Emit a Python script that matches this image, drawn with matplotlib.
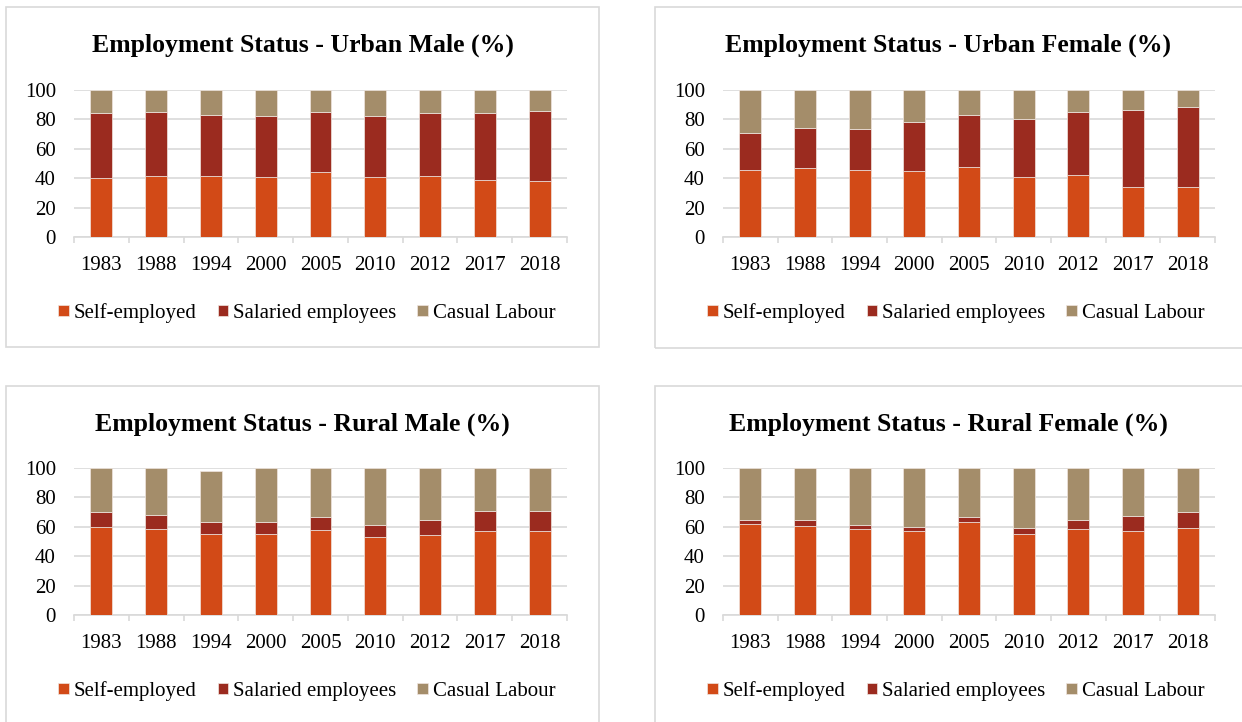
import matplotlib.pyplot as plt
import numpy as np
from matplotlib.patches import Rectangle

years = ["1983", "1988", "1994", "2000", "2005", "2010", "2012", "2017", "2018"]
series_names = ["Self-employed", "Salaried employees", "Casual Labour"]

urban_male_self = [40.1, 41.3, 41.3, 40.8, 44.2, 40.8, 41.3, 38.8, 38.1]
urban_male_salaried = [44.0, 44.0, 41.9, 41.7, 41.1, 41.7, 43.3, 45.8, 47.4]
urban_male_casual = [15.9, 14.7, 16.8, 17.5, 14.7, 17.5, 15.4, 15.4, 14.5]

urban_female_self = [45.6, 46.9, 45.6, 44.9, 47.4, 40.8, 42.0, 34.0, 34.0]
urban_female_salaried = [25.4, 27.5, 28.1, 33.3, 35.8, 39.2, 43.3, 52.6, 54.7]
urban_female_casual = [29.0, 25.6, 26.3, 21.8, 16.8, 20.0, 14.7, 13.4, 11.3]

rural_male_self = [60.0, 58.6, 55.4, 54.8, 57.7, 52.9, 54.1, 57.2, 57.2]
rural_male_salaried = [10.4, 9.7, 8.2, 8.3, 9.0, 8.6, 10.2, 13.8, 13.8]
rural_male_casual = [29.6, 31.7, 34.4, 36.9, 33.3, 38.5, 35.7, 29.0, 29.0]

rural_female_self = [62.0, 60.4, 58.6, 57.2, 63.3, 55.4, 58.8, 57.2, 59.3]
rural_female_salaried = [2.3, 3.9, 2.3, 2.8, 3.7, 4.1, 5.5, 10.4, 11.1]
rural_female_casual = [35.7, 35.7, 39.1, 40.0, 33.0, 40.5, 35.7, 32.4, 29.6]

titles = [
    "Employment Status - Urban Male (%)",
    "Employment Status - Urban Female (%)",
    "Employment Status - Rural Male (%)",
    "Employment Status - Rural Female (%)",
]
panels = [
    (urban_male_self, urban_male_salaried, urban_male_casual),
    (urban_female_self, urban_female_salaried, urban_female_casual),
    (rural_male_self, rural_male_salaried, rural_male_casual),
    (rural_female_self, rural_female_salaried, rural_female_casual),
]

colors = ["#D24A17", "#9B2B1F", "#A48D6A"]
grid_color = "#D9D9D9"

W, H = 1242, 722
plt.rcParams["font.family"] = ["Liberation Serif", "DejaVu Serif"]

fig = plt.figure(figsize=(W / 100, H / 100), dpi=100)

# pixel layout: (axes left, axes right, y of 100, y of 0, box left, box right, box top, box bottom, legend center x)
layout = [
    (74, 567, 90, 237, 6, 599, 7, 347, 307),
    (723, 1215, 90, 237, 655, 1250, 7, 348, 956),
    (74, 567, 468, 615, 6, 599, 386, 730, 307),
    (723, 1215, 468, 615, 655, 1250, 386, 730, 956),
]

x = np.arange(len(years))
for (left, right, ytop, ybot, bl, br, bt, bb, legx), title, data in zip(layout, titles, panels):
    fig.add_artist(Rectangle((bl / W, 1 - bb / H), (br - bl) / W, (bb - bt) / H,
                             transform=fig.transFigure, fill=False,
                             edgecolor=grid_color, linewidth=1.2))

    ax = fig.add_axes([left / W, 1 - ybot / H, (right - left) / W, (ybot - ytop) / H])
    bottom = np.zeros(len(years))
    handles = []
    for vals, name, c in zip(data, series_names, colors):
        vals = np.array(vals)
        h = ax.bar(x, vals, width=0.4, bottom=bottom, color=c, label=name,
                   edgecolor="#F0E6E0", linewidth=0.5, zorder=3)
        handles.append(h)
        bottom = bottom + vals

    ax.set_xlim(-0.5, len(years) - 0.5)
    ax.set_ylim(0, 100)
    ax.set_yticks(np.arange(0, 101, 20))
    ax.yaxis.grid(True, color=grid_color, linewidth=1.2, zorder=0)
    ax.set_axisbelow(True)
    for side in ["top", "right", "left"]:
        ax.spines[side].set_visible(False)
    ax.spines["bottom"].set_color(grid_color)
    ax.spines["bottom"].set_linewidth(1.2)
    ax.set_xticks(x)
    ax.set_xticklabels(years)
    ax.set_xticks(np.arange(-0.5, len(years), 1.0), minor=True)
    ax.tick_params(axis="x", which="major", length=0, pad=13.5, labelsize=15)
    ax.tick_params(axis="x", which="minor", length=4, color=grid_color, width=1.2)
    ax.tick_params(axis="y", length=0, pad=13, labelsize=15)

    title_x = (bl + min(br, 1242)) / 2 / W
    fig.text(title_x, 1 - (bt + 38) / H, title, ha="center", va="center",
             fontsize=18.5, fontweight="bold")

    fig.legend(handles=handles, loc="center", bbox_to_anchor=(legx / W, 1 - (ybot + 76) / H),
               ncol=3, frameon=False, fontsize=15, handlelength=0.5, handleheight=0.5,
               handletextpad=0.25, columnspacing=1.0)

fig.savefig("out.png", dpi=100, facecolor="white")
